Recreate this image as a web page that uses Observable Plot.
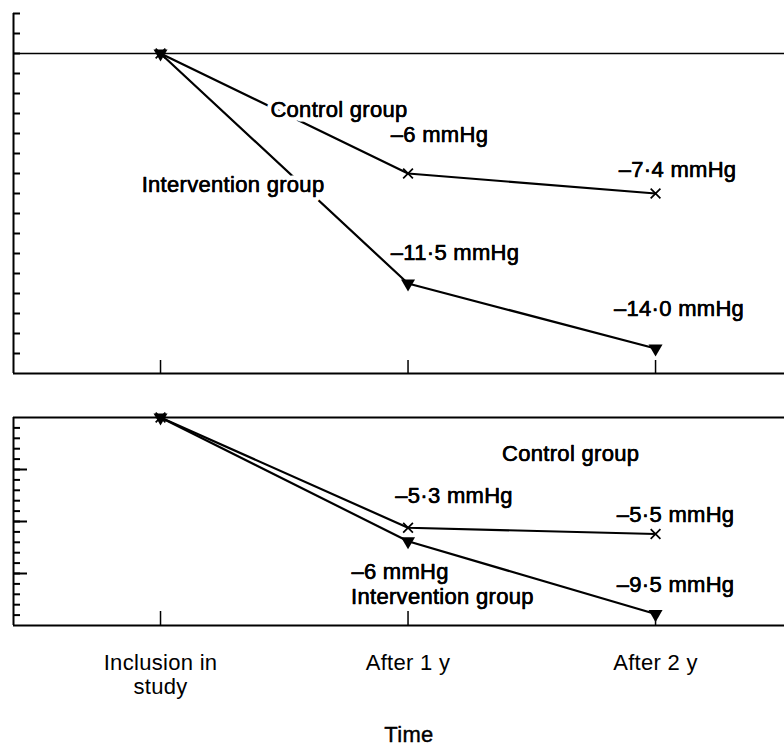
<!DOCTYPE html>
<html><head><meta charset="utf-8">
<script src="https://cdn.jsdelivr.net/npm/d3@7"></script>
<script src="https://cdn.jsdelivr.net/npm/@observablehq/plot@0.6"></script>
<style>
html,body{margin:0;padding:0;background:#fff;}
#chart{width:784px;height:749px;overflow:hidden;}
#chart svg{display:block;}
#chart svg text{letter-spacing:0.3px;}
</style></head><body><div id="chart"></div>
<script>
// ---- data ----
const timepoints = ["Inclusion in\nstudy", "After 1 y", "After 2 y"];
const timeIndex = [0, 1, 2];

// top panel (values as drawn, mmHg change)
const topControl = [0, -6.0, -7.0];
const topIntervention = [0, -11.5, -14.75];
const topLabelText = ["Control group", "–6 mmHg", "–7·4 mmHg", "Intervention group", "–11·5 mmHg", "–14·0 mmHg"];
const topLabelT = [0.721, 1.127, 2.089, 0.293, 1.19, 2.095];
const topLabelV = [-2.8, -4.05, -5.8, -6.55, -9.95, -12.75];
const topTicks = d3.range(2, -15.5, -1);

// bottom panel
const botControl = [0, -5.3, -5.6];
const botIntervention = [0, -5.95, -9.45];
const botLabelText = ["Control group", "–5·3 mmHg", "–5·5 mmHg", "–6 mmHg", "Intervention group", "–9·5 mmHg"];
const botLabelT = [1.657, 1.186, 2.081, 0.968, 1.139, 2.081];
const botLabelV = [-1.76, -3.76, -4.67, -7.42, -8.64, -8.05];
const botTicksMinor = d3.range(-0.5, -10, -0.5);
const botTicksMajor = [-2.5, -5, -7.5];

const xTitle = "Time";

// ---- helpers ----
const FONT = "'Liberation Sans', Arial, Helvetica, sans-serif";
const FS = 22;
const xDomain = [-0.594, 2.521];
function series(values, group) { return timeIndex.map((t, i) => ({t, v: values[i], group})); }
function labels(text, ts, vs) { return text.map((s, i) => ({s, t: ts[i], v: vs[i]})); }

const topData = [...series(topControl, "Control"), ...series(topIntervention, "Intervention")];
const botData = [...series(botControl, "Control"), ...series(botIntervention, "Intervention")];

function panelMarks(data, lbls) {
  return [
    Plot.line(data, {x: "t", y: "v", z: "group", stroke: "black", strokeWidth: 2.2}),
    Plot.text(lbls, {x: "t", y: "v", text: "s", fill: "black", stroke: "white", strokeWidth: 9, fontSize: FS}),
    Plot.text(lbls, {x: "t", y: "v", text: "s", fill: "black", stroke: "black", strokeWidth: 0.5, fontSize: FS}),
    Plot.dot(data.filter(d => d.group === "Intervention"), {x: "t", y: "v", symbol: "triangle", rotate: 180, r: 5.2, fill: "black", stroke: "none"}),
    Plot.dot(data.filter(d => d.group === "Control"), {x: "t", y: "v", symbol: "times", r: 4.5, stroke: "black", strokeWidth: 1.7})
  ];
}

const topPlot = Plot.plot({
  width: 784, height: 380,
  marginLeft: 13, marginRight: 0, marginTop: 13, marginBottom: 7,
  x: {domain: xDomain, axis: null},
  y: {domain: [-16, 2], axis: null},
  style: {fontFamily: FONT, fontSize: FS + "px", background: "white", color: "black"},
  marks: [
    Plot.ruleY([0], {stroke: "black", strokeWidth: 1.5}),
    Plot.ruleY([-16], {stroke: "black", strokeWidth: 2}),
    Plot.ruleX([xDomain[0]], {stroke: "black", strokeWidth: 2}),
    Plot.axisY({ticks: topTicks, tickSize: -7, fill: "none", label: null, strokeWidth: 2}),
    Plot.axisX({ticks: timeIndex, tickSize: -13, fill: "none", label: null, strokeWidth: 1.5}),
    ...panelMarks(topData, labels(topLabelText, topLabelT, topLabelV))
  ]
});

const botPlot = Plot.plot({
  width: 784, height: 369,
  marginLeft: 13, marginRight: 0, marginTop: 37, marginBottom: 124,
  x: {domain: xDomain, axis: null},
  y: {domain: [-10, 0], axis: null},
  style: {fontFamily: FONT, fontSize: FS + "px", background: "white", color: "black"},
  marks: [
    Plot.ruleY([0], {stroke: "black", strokeWidth: 2}),
    Plot.ruleY([-10], {stroke: "black", strokeWidth: 2}),
    Plot.ruleX([xDomain[0]], {stroke: "black", strokeWidth: 2}),
    Plot.axisY({ticks: botTicksMinor, tickSize: -7, fill: "none", label: null, strokeWidth: 2}),
    Plot.axisY({ticks: botTicksMajor, tickSize: -14, fill: "none", label: null, strokeWidth: 2}),
    Plot.axisX({ticks: timeIndex, tickSize: -14, fill: "none", label: null, strokeWidth: 1.5}),
    Plot.axisX({ticks: timeIndex, tickSize: 0, tickPadding: 27, tickFormat: i => timepoints[i], label: null, fontSize: FS, lineHeight: 1.1, stroke: "black", strokeWidth: 0.4}),
    Plot.text([xTitle], {frameAnchor: "bottom", dx: 10, dy: 101, lineAnchor: "top", fontSize: FS, fill: "black", stroke: "black", strokeWidth: 0.4}),
    ...panelMarks(botData, labels(botLabelText, botLabelT, botLabelV))
  ]
});

document.getElementById("chart").append(topPlot, botPlot);
</script>
</body></html>
